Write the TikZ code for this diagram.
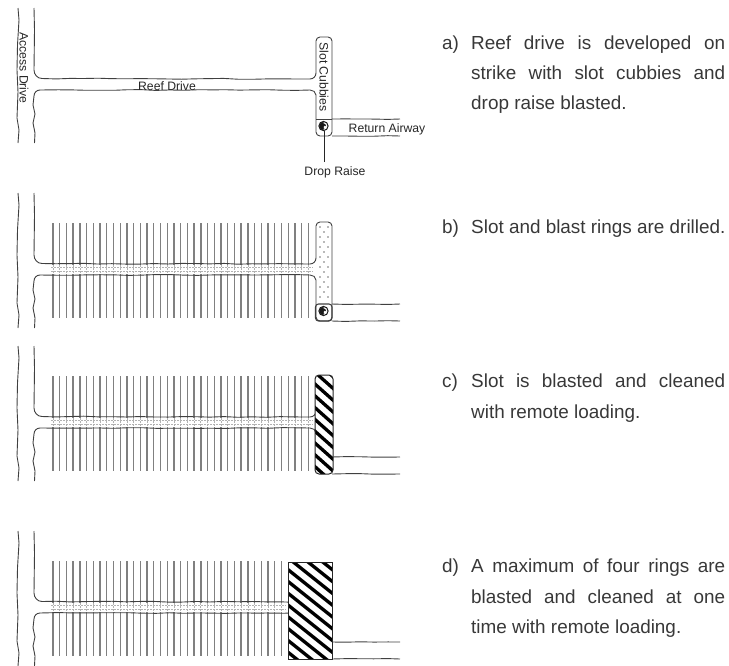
\documentclass[tikz,border=0pt]{standalone}
\usepackage{fontspec}
\setmainfont{Liberation Sans}
\usetikzlibrary{decorations.pathmorphing,arrows.meta}
\pgfmathsetseed{4711}
\tikzset{
  sketch/.style={draw=black!75,line width=0.9pt,line join=round},
  wobble/.style={sketch,decorate,decoration={random steps,segment length=14pt,amplitude=0.45pt}},
  ringline/.style={draw=black!50,line width=1.35pt},
  dotline/.style={draw=black!30,line width=0.7pt,dash pattern=on 1.6pt off 1.4pt},
  lab/.style={font=\fontsize{12.2}{14}\selectfont,text=black!85,inner sep=0pt},
  captext/.style={font=\fontsize{18.9}{22}\selectfont,text=black!78,inner sep=0pt,anchor=base west},
}
\newcommand{\jline}[2]{\node[captext] at (471,#1) {\makebox[254pt][s]{#2}};}
\newcommand{\baseplan}{%
  \draw[sketch] (18,8) -- (19,20) -- (17.5,45) -- (17,70) -- (18,92) -- (17,118) -- (19,130) -- (18,143);
  \draw[sketch] (34,8) -- (34.5,30) -- (34,70) to[out=-90,in=180] (42,78.5);
  \draw[wobble] (42,78.5) -- (310,79);
  \draw[sketch] (310,79) to[out=0,in=-90] (316,73);
  \draw[sketch] (316,95) to[out=90,in=0] (310,90);
  \draw[wobble] (310,90) -- (40,90);
  \draw[sketch] (40,90) to[out=180,in=90] (34,96) -- (33,105) -- (35,114) -- (33,123) -- (35,133) -- (34.5,143);
  \draw[wobble] (332,119) -- (400,119);
  \draw[wobble] (332,136) -- (400,136);
}
\newcommand{\rings}[1]{%
  \foreach \i in {0,...,#1} \draw[ringline] ({53+6.72*\i},38) -- ({53+6.72*\i},133);
  \fill[white] (50,80) rectangle ({53+6.72*#1+4},89);
  \foreach \i in {0,...,#1} \draw[dotline] ({53+6.72*\i},80) -- ({53+6.72*\i},89);
  \foreach \yy in {82.5,86.5} \draw[dotline] (51,\yy) -- ({53+6.72*#1+4},\yy);
}
\newcommand{\slotoutline}{%
  \draw[sketch,rounded corners=4pt] (316,73) -- (316,37) -- (332,37) -- (332,136) -- (316,136) -- (316,95);
}
\newcommand{\dropraise}{%
  \draw[line width=1pt,draw=black!90,fill=white] (323.5,126) circle (4.6);
  \fill[black!90] (323.5,121.8) arc (270:90:4.2) -- cycle;
  \fill[black!90] (323.5,126) circle (2.6);
  \fill[white] (325,127.2) circle (1.5);
}
\begin{document}
\begin{tikzpicture}[x=1pt,y=-1pt]
\useasboundingbox (0,0) rectangle (729,665);
% panel a
\baseplan
\slotoutline
\draw[sketch] (316,119) -- (332,119);
\dropraise
\draw[black!85,line width=1pt] (324,162) -- (324,131);
\node[lab,rotate=-90] (access) at (24,68) {Access Drive};
\node[lab] (reef) at (167,86) {Reef Drive};
\node[lab,rotate=-90] (slot) at (324,77) {Slot Cubbies};
\node[lab] (ret) at (387,129.5) {Return Airway};
\node[lab] (dr) at (335,172) {Drop Raise};
% panel b
\begin{scope}[yshift=-185pt]
\rings{38}
\baseplan
\slotoutline
\foreach \yy in {42,52,...,115} \foreach \xx in {320,328} \fill[black!55] (\xx,\yy) circle (0.9);
\foreach \yy in {47,57,...,115} \fill[black!55] (324,\yy) circle (0.9);
\draw[sketch,line width=1.1pt,rounded corners=3pt] (315.5,119) rectangle (332,136);
\dropraise
\end{scope}
% panel c
\begin{scope}[yshift=-338pt]
\rings{38}
\baseplan
\begin{scope}
\clip[rounded corners=4pt] (315,37) rectangle (333,136);
\fill[white] (315,37) rectangle (333,136);
\foreach \k in {0,...,9} \draw[black,line width=3.3pt] (310,{18+11.8*\k}) -- (338,{43+11.8*\k});
\end{scope}
\draw[black!85,line width=1pt,rounded corners=4pt] (315,37) rectangle (333,136);
\end{scope}
% panel d
\begin{scope}[yshift=-523pt]
\rings{34}
\baseplan
\begin{scope}
\clip (288,39) rectangle (332,136);
\fill[white] (288,39) rectangle (332,136);
\foreach \k in {0,...,13} \draw[black,line width=3.3pt] (280,{-7+11.8*\k}) -- (340,{41+11.8*\k});
\end{scope}
\draw[black!85,line width=1pt] (288,39) rectangle (332,136);
\end{scope}
% captions
\node[captext] (la) at (442,49) {a)};
\jline{49}{Reef drive is developed on}
\jline{79}{strike with slot cubbies and}
\node[captext] (ta) at (471,109) {drop raise blasted.};
\node[captext] (lb) at (442,233) {b)};
\node[captext] (tb) at (471,233) {Slot and blast rings are drilled.};
\node[captext] (lc) at (442,387) {c)};
\jline{387}{Slot is blasted and cleaned}
\node[captext] (tc) at (471,418) {with remote loading.};
\node[captext] (ld) at (442,572) {d)};
\jline{572}{A maximum of four rings are}
\jline{603}{blasted and cleaned at one}
\node[captext] (td) at (471,633) {time with remote loading.};
\end{tikzpicture}
\end{document}
